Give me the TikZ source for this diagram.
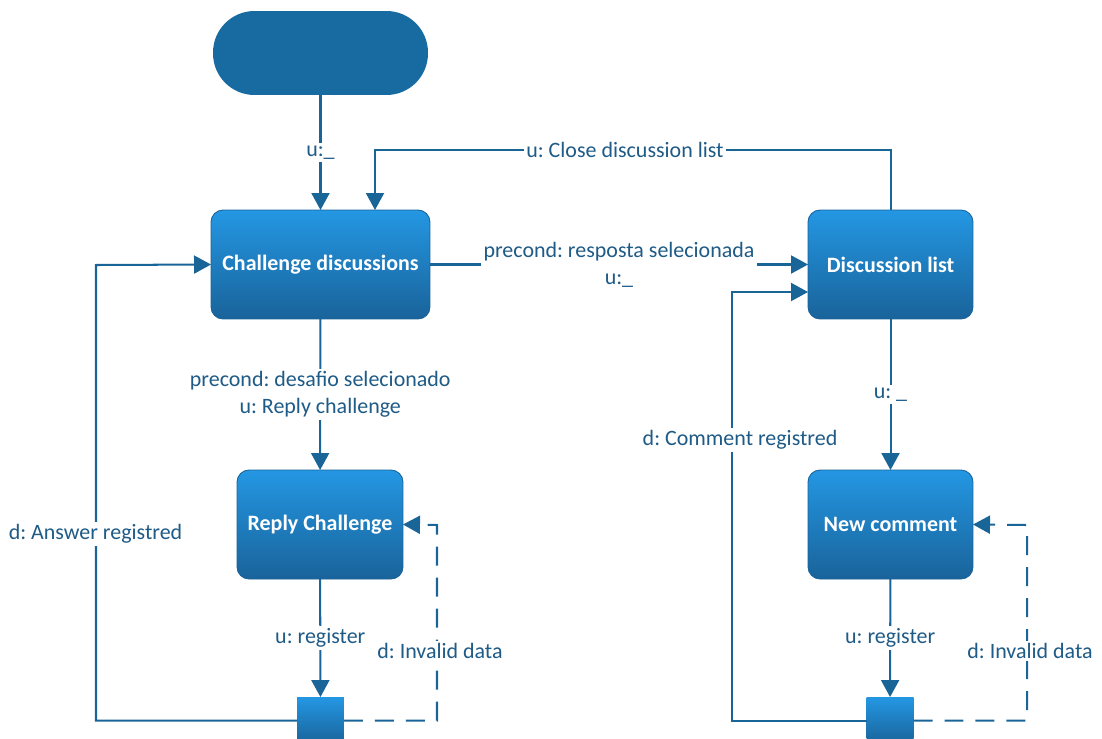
\documentclass[tikz,border=0pt]{standalone}
\usepackage{fontspec}
\setmainfont{Carlito}
\usetikzlibrary{arrows.meta}
\frenchspacing

\definecolor{startblue}{HTML}{176BA0}
\definecolor{statetop}{HTML}{2497E3}
\definecolor{statebot}{HTML}{19639A}
\definecolor{linkblue}{HTML}{1A6598}
\definecolor{textblue}{HTML}{1F5B87}

\tikzset{
  state/.style={rectangle, rounded corners=0.24cm, top color=statetop,
    bottom color=statebot, draw=statebot, line width=0.5pt, text=white,
    font=\fontsize{12.5}{14}\selectfont\bfseries, minimum height=2.18cm,
    outer sep=0pt, align=center},
  startnode/.style={rectangle, rounded corners=0.83cm, fill=startblue,
    minimum width=4.3cm, minimum height=1.68cm, outer sep=0pt},
  junction/.style={rectangle, top color=statetop, bottom color=statebot,
    minimum size=0.94cm, inner sep=0pt, outer sep=0pt},
  link/.style={draw=linkblue, line width=1.15pt,
    -{Triangle[length=0.34cm,width=0.36cm]}},
  backlink/.style={link, dash pattern=on 0.38cm off 0.24cm},
  lbl/.style={fill=white, text=textblue, inner sep=1.5pt, align=center,
    font=\fontsize{12.5}{15.3}\selectfont}
}

\newcommand{\statebox}[4]{
  \node[state, minimum width=#4] (#1) at (#2) {#3};
}

\begin{document}
\begin{tikzpicture}[x=0.02cm, y=-0.02cm]
  \useasboundingbox (0,0) rectangle (1102,738);

  % STATES
  % ======

  \node[startnode] (start) at (320.5,53) {};
  \statebox{chal}{320.5,264.5}{Challenge discussions}{4.38cm};
  \statebox{dlist}{890.5,264.5}{Discussion list}{3.3cm};
  \statebox{reply}{320,524.5}{Reply Challenge}{3.32cm};
  \statebox{newc}{890.5,524.5}{New comment}{3.3cm};

  \begin{scope}
    \clip (0,0) rectangle (1102,738);
    \node[junction] (jleft) at (320.5,720.5) {};
    \node[junction] (jright) at (890,720.5) {};
  \end{scope}

  \coordinate (closeturn) at (375,150);

  % Challenge side
  % --------------

  \draw[link] (start) -- (chal) node[lbl, midway] {u:\_};

  \draw[link] (chal) -- (reply)
  node[lbl, midway] {precond: desafio selecionado\\u: Reply challenge};

  \draw[link] (reply) -- (jleft) node[lbl, midway] {u: register};

  \draw[link] (jleft.west) -| (96,265) -- (chal.west);
  \node[lbl] (answerlbl) at (95.5,534) {d: Answer registred};

  \draw[backlink] (jleft.east) -| (437,525) -- (reply.east);
  \node[lbl] (invalidl) at (440,651) {d: Invalid data};

  % Discussion side
  % ---------------

  \draw[link] (chal) -- (dlist)
  node[lbl, midway] {precond: resposta selecionada\\u:\_};

  \draw[link] (dlist.north) |- (closeturn) -- (closeturn |- chal.north);
  \node[lbl] (closelbl) at (625,150) {u: Close discussion list};

  \draw[link] (dlist) -- (newc) node[lbl, midway] {u: \_};

  \draw[link] (newc) -- (jright) node[lbl, midway] {u: register};

  \draw[link] (jright.west) -| (732,292) -- (dlist.west |- 732,292);
  \node[lbl] (commentlbl) at (740,440) {d: Comment registred};

  \draw[backlink] (jright.east) -| (1027,525) -- (newc.east);
  \node[lbl] (invalidr) at (1030,651) {d: Invalid data};

\end{tikzpicture}
\end{document}
